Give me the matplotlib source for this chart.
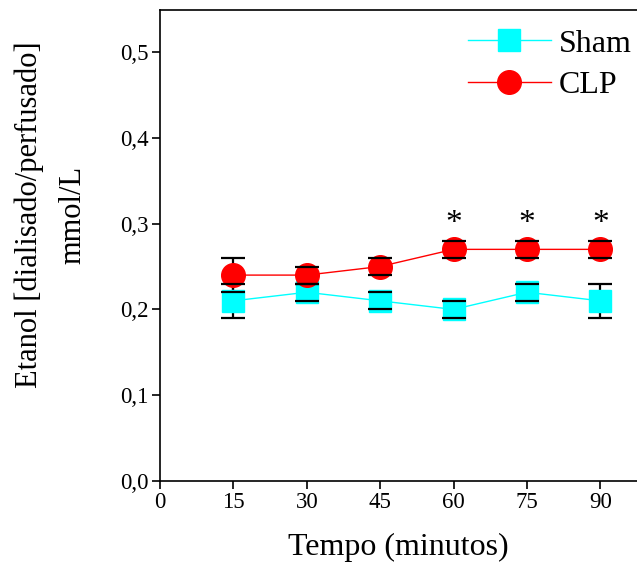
import matplotlib
matplotlib.use("Agg")
import matplotlib.pyplot as plt

plt.rcParams['font.family'] = ['Liberation Serif', 'DejaVu Serif']

tempo = [15, 30, 45, 60, 75, 90]
sham = [0.21, 0.22, 0.21, 0.20, 0.22, 0.21]
sham_err = [0.02, 0.01, 0.01, 0.01, 0.01, 0.02]
clp = [0.24, 0.24, 0.25, 0.27, 0.27, 0.27]
clp_err = [0.02, 0.01, 0.01, 0.01, 0.01, 0.01]
signif_x = [60, 75, 90]
signif_y = 0.30
xticks = [0, 15, 30, 45, 60, 75, 90]
yticks = [0.0, 0.1, 0.2, 0.3, 0.4, 0.5]
ytick_labels = ['0,0', '0,1', '0,2', '0,3', '0,4', '0,5']

fig = plt.figure(figsize=(6.37, 5.69), dpi=100)
ax = fig.add_axes([160/637, 1-481/569, 1-160/637, 471/569])

ax.plot(tempo, sham, color='#00FFFF', lw=1, marker='s', ms=16,
        mfc='#00FFFF', mec='#00FFFF', label='Sham', zorder=2)
ax.plot(tempo, clp, color='#FF0000', lw=1, marker='o', ms=17,
        mfc='#FF0000', mec='#FF0000', label='CLP', zorder=2)
for vals, errs in [(sham, sham_err), (clp, clp_err)]:
    eb = ax.errorbar(tempo, vals, yerr=errs, fmt='none', ecolor='black',
                     elinewidth=1.6, capsize=8.6, capthick=1.6)
    for c in eb[2]:
        c.set_zorder(1)
    for c in eb[1]:
        c.set_zorder(3)

for x in signif_x:
    ax.text(x, signif_y, '*', ha='center', va='center', fontsize=24)

ax.set_xlim(0, 97.5)
ax.set_ylim(0, 0.549)
ax.set_xticks(xticks)
ax.set_xticklabels([str(t) for t in xticks], fontsize=16.5)
ax.set_yticks(yticks)
ax.set_yticklabels(ytick_labels, fontsize=16.5)
ax.spines['right'].set_visible(False)
for s in ['left', 'bottom', 'top']:
    ax.spines[s].set_linewidth(1.2)
ax.tick_params(axis='both', direction='out', length=6, width=1.2, pad=2)

ax.set_xlabel('Tempo (minutos)', fontsize=23, labelpad=14)
ax.set_ylabel('Etanol [dialisado/perfusado]\nmmol/L', fontsize=22,
              linespacing=1.65)
ax.yaxis.set_label_coords(-0.153, 0.565)

leg = ax.legend(loc='upper right', frameon=False, fontsize=23, numpoints=1,
                handlelength=2.6, handletextpad=0.25, labelspacing=0.37,
                borderaxespad=0.0, borderpad=0.35,
                bbox_to_anchor=(1.012, 0.983))

fig.savefig('out.png', dpi=100)
